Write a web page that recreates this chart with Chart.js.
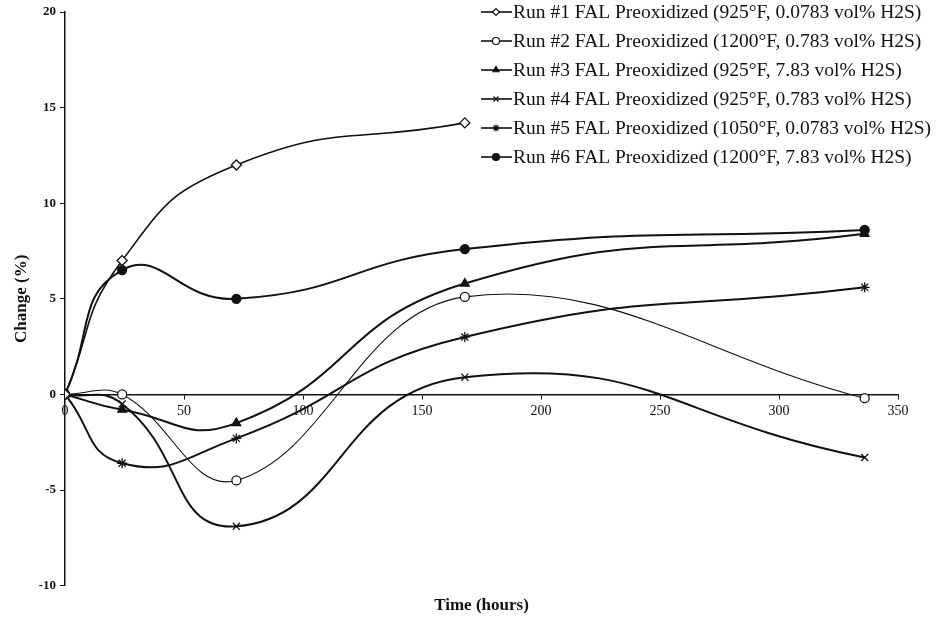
<!DOCTYPE html>
<html lang="en">
<head>
  <meta charset="UTF-8">
  <title>FAL Preoxidized - Change vs Time</title>
  <script src="https://cdn.jsdelivr.net/npm/chart.js"></script>
  <style>
    html, body { margin: 0; padding: 0; background: #fff; }
    #wrap { width: 940px; height: 628px; position: relative; }
  </style>
</head>
<body>
  <div id="wrap"><canvas id="chart"></canvas></div>

  <script>
    // hours at which samples were taken
    const hours = [0, 24, 72, 168, 336];
    const xTicks = [0, 50, 100, 150, 200, 250, 300, 350];
    const yTicks = [-10, -5, 0, 5, 10, 15, 20];

    const runLabels = [
      'Run #1 FAL Preoxidized (925°F, 0.0783 vol% H2S)',
      'Run #2 FAL Preoxidized (1200°F, 0.783 vol% H2S)',
      'Run #3 FAL Preoxidized (925°F, 7.83 vol% H2S)',
      'Run #4 FAL Preoxidized (925°F, 0.783 vol% H2S)',
      'Run #5 FAL Preoxidized (1050°F, 0.0783 vol% H2S)',
      'Run #6 FAL Preoxidized (1200°F, 7.83 vol% H2S)'
    ];

    // change (%); run 1 has no 336 h point
    const run1 = [0, 7.0, 12.0, 14.2];
    const run2 = [0, 0.0, -4.5, 5.1, -0.2];
    const run3 = [0, -0.8, -1.5, 5.8, 8.4];
    const run4 = [0, -0.5, -6.9, 0.9, -3.3];
    const run5 = [0, -3.6, -2.3, 3.0, 5.6];
    const run6 = [0, 6.5, 5.0, 7.6, 8.6];

    const runs = [run1, run2, run3, run4, run5, run6];
    const styles = [
      { pointStyle: 'rectRot', radius: 5, fill: '#fff', width: 1.6, tension: 0.5 },
      { pointStyle: 'circle', radius: 4.5, fill: '#fff', width: 1.1, tension: 0.4 },
      { pointStyle: 'triangle', radius: 5, fill: '#111', width: 2, tension: 0.5 },
      { pointStyle: 'crossRot', radius: 5, fill: '#111', width: 2, tension: 0.5 },
      { pointStyle: 'star', radius: 5, fill: '#111', width: 2, tension: 0.5 },
      { pointStyle: 'circle', radius: 4.5, fill: '#111', width: 2, tension: 0.5 }
    ];

    const serif = "'Liberation Serif', 'DejaVu Serif', serif";

    const datasets = runs.map((vals, i) => ({
      label: runLabels[i],
      data: vals.map((v, j) => ({ x: hours[j], y: v })),
      borderColor: '#111',
      backgroundColor: styles[i].fill,
      borderWidth: styles[i].width,
      pointStyle: styles[i].pointStyle,
      pointRadius: styles[i].radius,
      pointBorderWidth: 1.3,
      pointBorderColor: '#111',
      pointBackgroundColor: styles[i].fill,
      tension: styles[i].tension,
      fill: false
    }));

    // legend with line + marker like the original
    const lineLegend = {
      id: 'lineLegend',
      afterDraw(chart) {
        const ctx = chart.ctx;
        ctx.save();
        chart.data.datasets.forEach((ds, i) => {
          const y = 12 + i * 29;
          ctx.strokeStyle = '#111';
          ctx.lineWidth = 1.6;
          ctx.beginPath();
          ctx.moveTo(481, y);
          ctx.lineTo(512, y);
          ctx.stroke();
          ctx.fillStyle = ds.pointBackgroundColor;
          ctx.lineWidth = 1.2;
          Chart.helpers.drawPoint(ctx, {
            pointStyle: ds.pointStyle, radius: 3.5, borderWidth: 1.2, rotation: 0
          }, 496, y);
          ctx.fillStyle = '#111';
          ctx.font = '19.5px ' + serif;
          ctx.textBaseline = 'middle';
          ctx.textAlign = 'left';
          ctx.fillText(ds.label, 513, y + 1);
        });
        ctx.restore();
      }
    };

    new Chart(document.getElementById('chart'), {
      type: 'line',
      data: { datasets: datasets },
      plugins: [lineLegend],
      options: {
        responsive: true,
        maintainAspectRatio: false,
        animation: false,
        layout: { padding: { top: 12, right: 42, bottom: 0, left: 0 } },
        plugins: {
          legend: { display: false },
          tooltip: { enabled: false },
          title: {
            display: true,
            text: 'Time (hours)',
            position: 'bottom',
            fullSize: false,
            color: '#111',
            font: { family: serif, size: 17, weight: 'bold' },
            padding: { top: 10, bottom: 12 }
          }
        },
        scales: {
          x: {
            type: 'linear',
            min: 0,
            max: 350,
            position: { y: 0 },
            afterBuildTicks: s => { s.ticks = xTicks.map(v => ({ value: v })); },
            ticks: { color: '#111', font: { family: serif, size: 14 }, padding: 5 },
            grid: { drawOnChartArea: false, drawTicks: true, tickLength: 4, color: '#111' },
            border: { display: true, color: '#111', width: 1.5 }
          },
          y: {
            min: -10,
            max: 20,
            afterBuildTicks: s => { s.ticks = yTicks.map(v => ({ value: v })); },
            afterFit: s => { s.width = 65; },
            ticks: { color: '#111', font: { family: serif, size: 13, weight: 'bold' }, padding: 4 },
            grid: { drawOnChartArea: false, drawTicks: true, tickLength: 5, color: '#111' },
            border: { display: true, color: '#111', width: 1.5 },
            title: {
              display: true,
              text: 'Change (%)',
              color: '#111',
              font: { family: serif, size: 17, weight: 'bold' },
              padding: { top: 11, bottom: 0 }
            }
          }
        }
      }
    });
  </script>
</body>
</html>
